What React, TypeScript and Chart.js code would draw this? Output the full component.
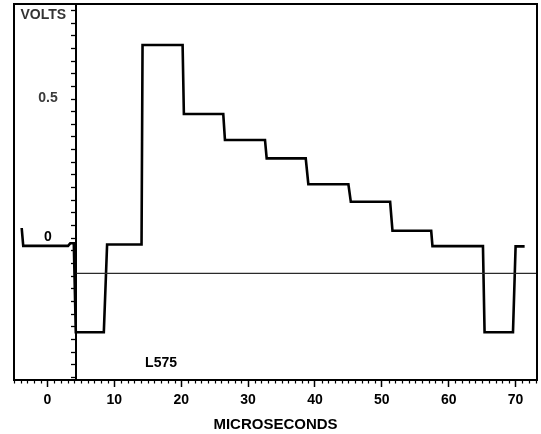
import React, { useEffect, useRef } from "react";
import { Chart, registerables } from "chart.js";

Chart.register(...registerables);

// ---- data (microseconds, volts) ----
const traceTimes = [-3.85, -3.62, 3.08, 3.41, 3.94, 4.24, 8.43, 8.92, 14.07, 14.22, 20.21, 20.4, 26.29, 26.54, 32.53, 32.78, 38.62, 39.01, 45.0, 45.36, 51.24, 51.59, 57.38, 57.57, 65.12, 65.36, 69.61, 70.0, 71.35];
const traceVolts = [0.037, -0.027, -0.027, -0.018, -0.018, -0.337, -0.337, -0.022, -0.022, 0.694, 0.694, 0.446, 0.446, 0.353, 0.353, 0.287, 0.287, 0.194, 0.194, 0.131, 0.131, 0.027, 0.027, -0.028, -0.028, -0.337, -0.337, -0.029, -0.029];

const refTimes = [4.34, 73.2];
const refVolts = [-0.126, -0.126];

const xMin = -5;
const xMax = 73.2;
const yMin = -0.5086;
const yMax = 0.841;
const yAxisAt = 4.34;

const xMajorTicks = [0, 10, 20, 30, 40, 50, 60, 70];
const yTickStep = 0.5 / 11;
const yTickFrom = -11;
const yTickTo = 18;
const yLabelTicks = [0, 11];
const yLabelTexts = ["0", "0.5"];

const yTitle = "VOLTS";
const xTitle = "MICROSECONDS";
const noteText = "L575";
const noteAt = { x: 14.6, y: -0.447 };

const FONT = "Arial, 'Liberation Sans', Helvetica, sans-serif";

const boxPlugin = {
  id: "scopeDecor",
  afterDraw(chart: any) {
    const { ctx, chartArea, scales } = chart;
    const xs = scales.x;
    const ys = scales.y;
    ctx.save();
    // minor x ticks
    ctx.strokeStyle = "#000";
    ctx.lineWidth = 1.2;
    ctx.beginPath();
    for (let v = Math.ceil(xMin); v <= Math.floor(xMax); v++) {
      if (v % 10 === 0) continue;
      const px = Math.round(xs.getPixelForValue(v)) + 0.5;
      ctx.moveTo(px, chartArea.bottom);
      ctx.lineTo(px, chartArea.bottom + 3.5);
    }
    ctx.stroke();
    // frame
    ctx.lineWidth = 2;
    ctx.strokeStyle = "#000";
    ctx.strokeRect(chartArea.left, chartArea.top, chartArea.right - chartArea.left, chartArea.bottom - chartArea.top);

    // y labels
    const axisPx = xs.getPixelForValue(yAxisAt);
    ctx.font = `bold 14px ${FONT}`;
    ctx.textAlign = "center";
    ctx.textBaseline = "middle";
    yLabelTicks.forEach((k, i) => {
      const py = ys.getPixelForValue(k * yTickStep);
      ctx.fillStyle = i === 0 ? "#000" : "#3a3a3a";
      ctx.fillText(yLabelTexts[i], axisPx - 28.5, py - 1);
    });

    // y title
    ctx.fillStyle = "#333";
    ctx.textAlign = "left";
    ctx.fillText(yTitle, chartArea.left + 6.5, chartArea.top + 11);

    // note
    ctx.fillStyle = "#000";
    ctx.fillText(noteText, xs.getPixelForValue(noteAt.x), ys.getPixelForValue(noteAt.y));
    ctx.restore();
  },
};

export default function App() {
  const ref = useRef<HTMLCanvasElement | null>(null);
  useEffect(() => {
    if (!ref.current) return;
    const chart = new Chart(ref.current, {
      type: "scatter",
      data: {
        datasets: [
          {
            data: refTimes.map((t, i) => ({ x: t, y: refVolts[i] })),
            showLine: true,
            borderColor: "#2a2a2a",
            borderWidth: 1.3,
            pointRadius: 0,
            tension: 0,
          },
          {
            data: traceTimes.map((t, i) => ({ x: t, y: traceVolts[i] })),
            showLine: true,
            borderColor: "#000",
            borderWidth: 2.6,
            borderJoinStyle: "miter",
            pointRadius: 0,
            tension: 0,
          },
        ],
      },
      options: {
        responsive: false,
        animation: false,
        devicePixelRatio: 1,
        layout: { padding: { left: 14, right: 4, top: 4, bottom: 0 } },
        plugins: { legend: { display: false }, tooltip: { enabled: false } },
        scales: {
          x: {
            type: "linear",
            position: "bottom",
            min: xMin,
            max: xMax,
            border: { display: false },
            grid: { drawOnChartArea: false, drawTicks: true, tickLength: 7, tickWidth: 1.5, tickColor: "#000" },
            afterBuildTicks: (s: any) => {
              s.ticks = xMajorTicks.map((v) => ({ value: v }));
            },
            afterFit: (s: any) => {
              s.height = 54;
            },
            ticks: {
              autoSkip: false,
              maxRotation: 0,
              padding: 5,
              color: "#000",
              font: { family: FONT, size: 14, weight: "bold" },
              callback: (v: any) => String(v),
            },
            title: {
              display: true,
              text: xTitle,
              color: "#000",
              font: { family: FONT, size: 15, weight: "bold" },
              padding: { top: 0, bottom: 0 },
            },
          },
          y: {
            type: "linear",
            position: { x: yAxisAt } as any,
            min: yMin,
            max: yMax,
            border: { display: true, color: "#000", width: 2 },
            grid: { drawOnChartArea: false, drawTicks: true, tickLength: 4, tickWidth: 1.3, tickColor: "#000" },
            afterBuildTicks: (s: any) => {
              const t = [];
              for (let k = yTickFrom; k <= yTickTo; k++) t.push({ value: k * yTickStep });
              s.ticks = t;
            },
            ticks: { display: false },
          },
        },
      },
      plugins: [boxPlugin],
    });
    return () => chart.destroy();
  }, []);
  return (
    <div style={{ position: "fixed", left: 0, top: 0, width: 541, height: 434, background: "#fff" }}>
      <canvas ref={ref} width={541} height={434} style={{ display: "block", width: 541, height: 434 }} />
    </div>
  );
}
